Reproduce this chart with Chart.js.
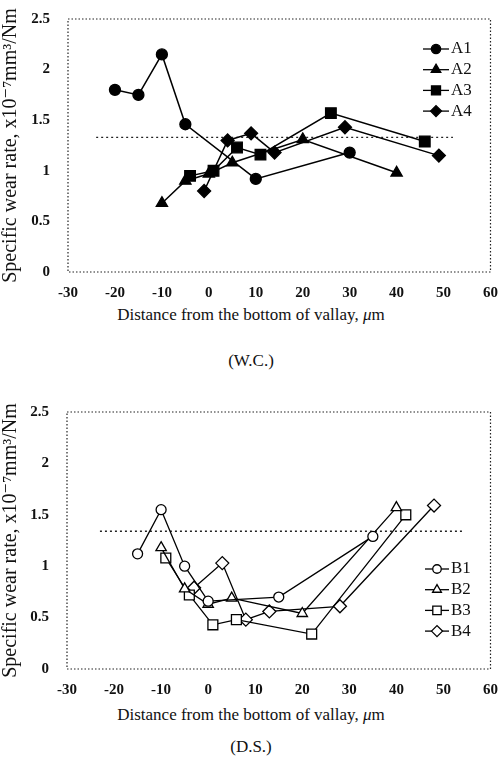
<!DOCTYPE html>
<html>
<head>
<meta charset="utf-8">
<script src="https://cdn.jsdelivr.net/npm/chart.js@4.4.1/dist/chart.umd.min.js"></script>
<style>
  body { margin: 0; background: #fff; width: 502px; height: 767px; position: relative; overflow: hidden; font-family: "Liberation Serif", serif; color: #111; }
  .box { position: absolute; left: 0; width: 502px; }
  .cap { position: absolute; left: 0; width: 502px; text-align: center; font-size: 17px; line-height: 18px; }
</style>
</head>
<body>
<div class="box" style="top:0;height:300px"><canvas id="wc"></canvas></div>
<div class="cap" style="top:306px">Distance from the bottom of vallay, <i>μ</i>m</div>
<div class="cap" style="top:352px">(W.C.)</div>
<div class="box" style="top:392px;height:310px"><canvas id="ds"></canvas></div>
<div class="cap" style="top:706px">Distance from the bottom of vallay, <i>μ</i>m</div>
<div class="cap" style="top:738px">(D.S.)</div>
<script>
// x ticks and y ticks shared by both panels
const xTicks = [-30, -20, -10, 0, 10, 20, 30, 40, 50, 60];
const yTicks = [0, 0.5, 1, 1.5, 2, 2.5];

// (W.C.) series
const a1X = [-20, -15, -10, -5, 10, 30];
const a1Y = [1.80, 1.75, 2.15, 1.46, 0.92, 1.18];
const a2X = [-10, -5, 0, 5, 20, 40];
const a2Y = [0.68, 0.90, 0.97, 1.08, 1.31, 0.98];
const a3X = [-4, 1, 6, 11, 26, 46];
const a3Y = [0.95, 1.00, 1.23, 1.16, 1.57, 1.29];
const a4X = [-1, 4, 9, 14, 29, 49];
const a4Y = [0.80, 1.30, 1.37, 1.18, 1.43, 1.15];
const refWX = [-24, 52];
const refWY = [1.33, 1.33];

// (D.S.) series
const b1X = [-15, -10, -5, 0, 15, 35];
const b1Y = [1.12, 1.55, 1.00, 0.66, 0.70, 1.29];
const b2X = [-10, -5, 0, 5, 20, 40];
const b2Y = [1.18, 0.78, 0.63, 0.69, 0.54, 1.57];
const b3X = [-9, -4, 1, 6, 22, 42];
const b3Y = [1.08, 0.72, 0.43, 0.48, 0.34, 1.50];
const b4X = [-3, 3, 8, 13, 28, 48];
const b4Y = [0.79, 1.03, 0.48, 0.56, 0.61, 1.59];
const refDX = [-23, 54];
const refDY = [1.34, 1.34];

const SERIF = '"Liberation Serif", "DejaVu Serif", serif';

function pts(xs, ys) {
  return xs.map((x, i) => ({x, y: ys[i]}));
}

// dotted frame round the plot area
const framePlugin = {
  id: 'frame',
  beforeDatasetsDraw(chart) {
    const {ctx, chartArea: a} = chart;
    ctx.save();
    ctx.strokeStyle = '#222';
    ctx.lineWidth = 1.2;
    ctx.setLineDash([1.5, 2]);
    ctx.strokeRect(a.left, a.top, a.right - a.left, a.bottom - a.top);
    ctx.restore();
  }
};

// legend drawn inside the plot area, line - marker - line + label
const innerLegend = {
  id: 'innerLegend',
  afterDatasetsDraw(chart, args, opts) {
    const {ctx, chartArea: a} = chart;
    let row = 0;
    ctx.save();
    ctx.font = '17px ' + SERIF;
    ctx.textBaseline = 'middle';
    chart.data.datasets.forEach(ds => {
      if (ds.noLegend) return;
      const x0 = a.left + opts.x;
      const y = a.top + opts.y + row * opts.gap;
      ctx.setLineDash([]);
      ctx.strokeStyle = '#000';
      ctx.lineWidth = 1.3;
      ctx.beginPath();
      ctx.moveTo(x0, y);
      ctx.lineTo(x0 + opts.len, y);
      ctx.stroke();
      ctx.fillStyle = ds.pointBackgroundColor;
      ctx.strokeStyle = '#000';
      Chart.helpers.drawPoint(ctx, {
        pointStyle: ds.pointStyle,
        radius: ds.pointRadius * 0.85,
        borderWidth: ds.pointBorderWidth,
        rotation: 0
      }, x0 + opts.len / 2, y);
      ctx.fillStyle = '#111';
      ctx.fillText(ds.label, x0 + opts.len + 2, y);
      row++;
    });
    ctx.restore();
  }
};

function series(label, xs, ys, style, radius, fill, lw) {
  return {
    label,
    data: pts(xs, ys),
    showLine: true,
    borderColor: '#000',
    borderWidth: lw,
    pointStyle: style,
    pointRadius: radius,
    pointBackgroundColor: fill,
    pointBorderColor: '#000',
    pointBorderWidth: 1.3,
    clip: false
  };
}

function refLine(xs, ys) {
  return {
    label: 'ref',
    noLegend: true,
    data: pts(xs, ys),
    showLine: true,
    borderColor: '#222',
    borderWidth: 1.4,
    borderDash: [2, 3],
    pointRadius: 0
  };
}

function makeChart(id, datasets, area, legendPos) {
  const canvas = document.getElementById(id);
  const W = canvas.parentNode.clientWidth;
  const H = canvas.parentNode.clientHeight;
  return new Chart(canvas, {
    type: 'scatter',
    data: {datasets},
    plugins: [framePlugin, innerLegend],
    options: {
      animation: false,
      responsive: true,
      maintainAspectRatio: false,
      events: [],
      layout: {
        padding: {left: 0, top: area.top, right: W - area.right, bottom: 0}
      },
      plugins: {
        legend: {display: false},
        tooltip: {enabled: false},
        innerLegend: legendPos
      },
      scales: {
        x: {
          type: 'linear',
          min: xTicks[0],
          max: xTicks[xTicks.length - 1],
          afterBuildTicks: s => { s.ticks = xTicks.map(v => ({value: v})); },
          afterFit: s => { s.height = H - area.bottom; },
          grid: {display: false},
          border: {display: false},
          ticks: {
            color: '#111',
            padding: 4,
            maxRotation: 0,
            font: {family: SERIF, size: 15, weight: 'bold'},
            callback: v => String(v)
          }
        },
        y: {
          type: 'linear',
          min: yTicks[0],
          max: yTicks[yTicks.length - 1],
          afterBuildTicks: s => { s.ticks = yTicks.map(v => ({value: v})); },
          afterFit: s => { s.width = area.left; },
          grid: {display: false},
          border: {display: false},
          ticks: {
            color: '#111',
            padding: 10,
            font: {family: SERIF, size: 15, weight: 'bold'},
            callback: v => String(v)
          },
          title: {
            display: true,
            text: 'Specific wear rate, x10\u207B\u2077mm\u00B3/Nm',
            color: '#111',
            padding: {top: -1, bottom: 0},
            font: {family: SERIF, size: 20}
          }
        }
      }
    }
  });
}

makeChart('wc', [
  series('A1', a1X, a1Y, 'circle', 5.5, '#000', 1.5),
  series('A2', a2X, a2Y, 'triangle', 6.5, '#000', 1.5),
  series('A3', a3X, a3Y, 'rect', 7.5, '#000', 1.5),
  series('A4', a4X, a4Y, 'rectRot', 6.5, '#000', 1.5),
  refLine(refWX, refWY)
], {left: 68, top: 18, right: 492, bottom: 272}, {x: 355, y: 30, gap: 20.7, len: 26});

makeChart('ds', [
  series('B1', b1X, b1Y, 'circle', 5, '#fff', 1.3),
  series('B2', b2X, b2Y, 'triangle', 6, '#fff', 1.3),
  series('B3', b3X, b3Y, 'rect', 7, '#fff', 1.3),
  series('B4', b4X, b4Y, 'rectRot', 6.5, '#fff', 1.3),
  refLine(refDX, refDY)
], {left: 67, top: 20, right: 494, bottom: 277}, {x: 358, y: 157, gap: 20.7, len: 24});
</script>
</body>
</html>
